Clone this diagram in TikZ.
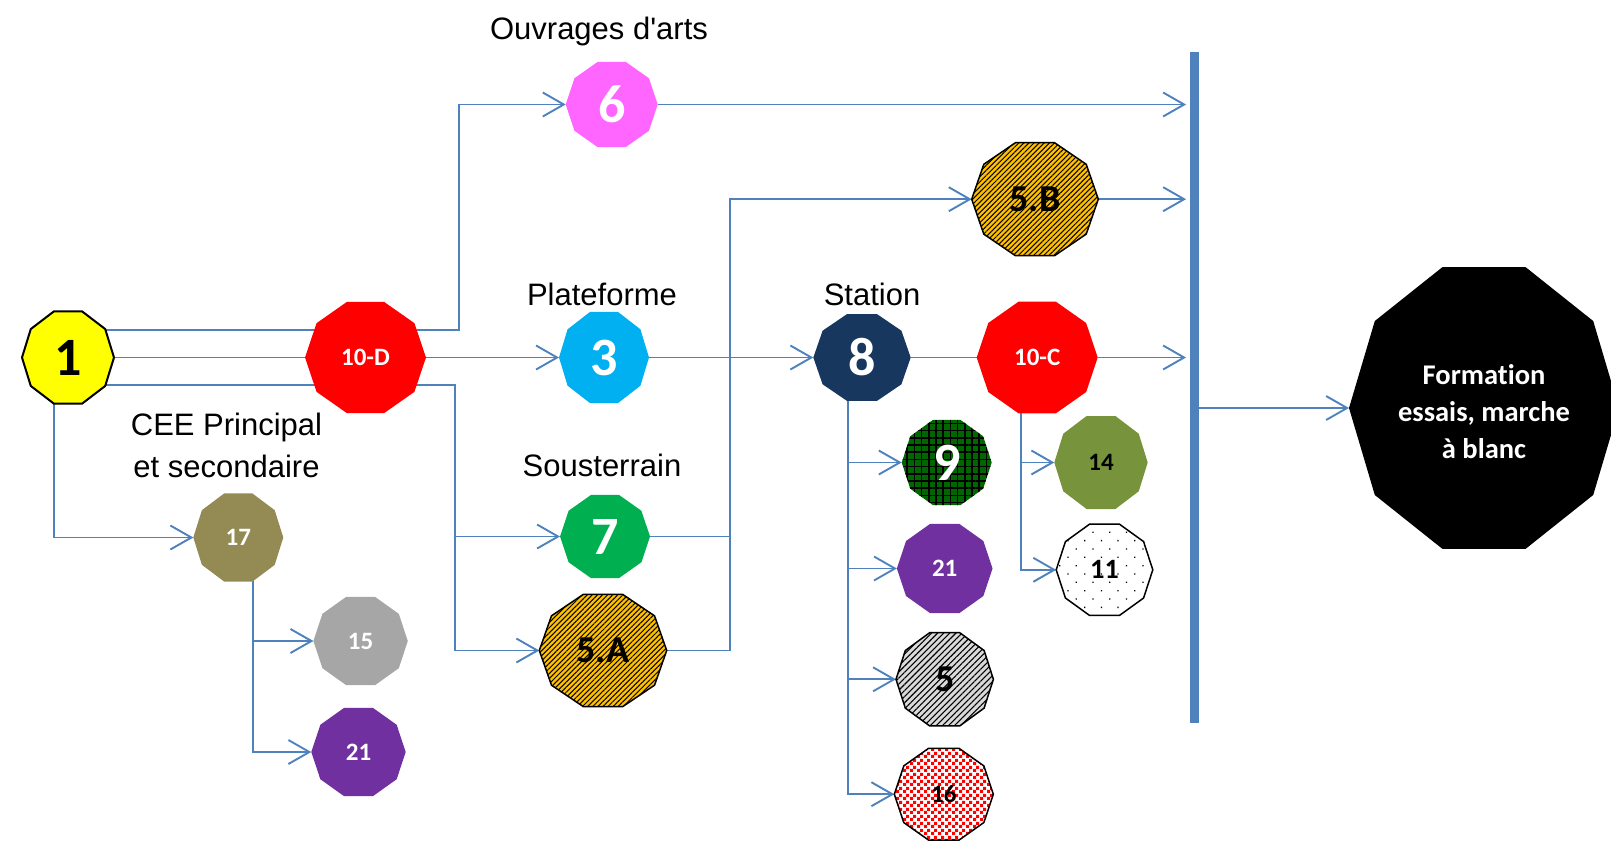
\documentclass[tikz,border=0pt]{standalone}
\usepackage{fontspec}
\usetikzlibrary{arrows.meta,patterns,patterns.meta}
\newfontfamily\lab{Liberation Sans}[Ligatures=TeXOff]
\newfontfamily\carl{Carlito}[Ligatures=CommonOff]
\definecolor{lineblue}{HTML}{4F81BD}
\definecolor{yel}{HTML}{FFFF00}
\definecolor{rd}{HTML}{FF0000}
\definecolor{pink}{HTML}{FF66FF}
\definecolor{cyanb}{HTML}{00B0F0}
\definecolor{grn}{HTML}{00B050}
\definecolor{navy}{HTML}{17375E}
\definecolor{gold}{HTML}{FFC000}
\definecolor{dkgreen}{HTML}{006600}
\definecolor{purp}{HTML}{7030A0}
\definecolor{ltgray}{HTML}{D9D9D9}
\definecolor{olive}{HTML}{77933C}
\definecolor{khaki}{HTML}{948A54}
\definecolor{midgray}{HTML}{A6A6A6}
\pgfdeclarelayer{bg}
\pgfsetlayers{bg,main}
\pgfdeclarepatternformonly{mycheck}{\pgfqpoint{0pt}{0pt}}{\pgfqpoint{7pt}{7pt}}{\pgfqpoint{7pt}{7pt}}{%
  \pgfpathrectangle{\pgfqpoint{0pt}{0pt}}{\pgfqpoint{3.5pt}{3.5pt}}%
  \pgfpathrectangle{\pgfqpoint{3.5pt}{3.5pt}}{\pgfqpoint{3.5pt}{3.5pt}}%
  \pgfusepath{fill}}
% #1 name, #2 x, #3 y, #4 rx, #5 ry, #6 shape style, #7 node style, #8 text
\newcommand\deca[8]{%
  \path[#6] ({#2+#4},{#3}) \foreach \ang in {36,72,...,324}{ -- ({#2+#4*cos(\ang)},{#3+#5*sin(\ang)}) } -- cycle;
  \node[hold, minimum width={2*#4pt}, minimum height={1.902*#5pt}, #7] (#1) at (#2,#3) {#8};
}
\tikzset{
  conn/.style={draw=lineblue, line width=1.9pt},
  arr/.style={conn, -{Straight Barb[length=21pt,width=24pt]}},
  hold/.style={rectangle, inner sep=0pt, outer sep=0pt, draw=none},
  lbl/.style={font=\lab\fontsize{31}{31}\selectfont, anchor=base, inner sep=0pt},
  big/.style={font=\carl\bfseries\fontsize{54}{54}\selectfont},
  med/.style={font=\carl\bfseries\fontsize{38}{38}\selectfont},
  sml/.style={font=\carl\bfseries\fontsize{25}{25}\selectfont},
  hatchA/.style={preaction={fill=gold}, pattern={Lines[angle=45,distance=3.6pt,line width=1pt]}, pattern color=black, draw=black, line width=1.5pt},
  hatchB/.style={preaction={fill=ltgray}, pattern={Lines[angle=45,distance=4.3pt,line width=1.1pt]}, pattern color=black, draw=black, line width=1.5pt},
  gridp/.style={preaction={fill=dkgreen}, pattern={Hatch[distance=7.2pt,line width=1.6pt]}, pattern color=black},
  checkp/.style={preaction={fill=white}, pattern=mycheck, pattern color=red, draw=black, line width=1.5pt},
  dotsp/.style={preaction={fill=white}, pattern={Dots[angle=45,distance=11.8pt,radius=0.9pt]}, pattern color=black, draw=black, line width=1.5pt},
}
\begin{document}
\begin{tikzpicture}[x=1pt,y=-1pt]
\useasboundingbox (0,0) rectangle (1611,841);
\clip (0,0) rectangle (1611,841);
% labels
\node[lbl] (tOuv) at (599,39.3) {Ouvrages d'arts};
\node[lbl] (tPlat) at (602,305) {Plateforme};
\node[lbl] (tSta) at (872,305) {Station};
\node[lbl] (tSous) at (602,476.7) {Sousterrain};
\node[lbl] (tCEE1) at (226.5,435.7) {CEE Principal};
\node[lbl] (tCEE2) at (226.5,477.3) {et secondaire};
% nodes
\deca{n1}{68}{357.5}{46}{48.4}{fill=yel, draw=black, line width=2pt}{big, text=black}{1}
\deca{n10d}{365.5}{357.5}{60.5}{58.4}{fill=rd}{sml, text=white}{10-D}
\deca{n6}{611.7}{104.5}{46}{44.7}{fill=pink}{big, text=white}{6}
\deca{n3}{604}{357.5}{45}{48}{fill=cyanb}{big, text=white}{3}
\deca{n7}{605}{536.5}{45}{43.8}{fill=grn}{big, text=white}{7}
\deca{n5a}{603}{650.5}{63.7}{59}{hatchA}{med, text=black}{5.A}
\deca{n5b}{1035}{199.2}{63.3}{59.4}{hatchA}{med, text=black}{5.B}
\deca{n8}{862}{357.5}{48.7}{45.6}{fill=navy}{big, text=white}{8}
\deca{n10c}{1037.2}{357.5}{60.5}{58.7}{fill=rd}{sml, text=white}{10-C}
\deca{n9}{946.7}{462.5}{45}{44.7}{gridp}{big, text=white}{9}
\deca{n21b}{944.7}{568.5}{47.8}{46.8}{fill=purp}{sml, text=white}{21}
\deca{n5}{944.7}{679.3}{48.7}{49}{hatchB}{med, text=black}{5}
\deca{n16}{943.8}{794.2}{49.5}{48.2}{checkp}{sml, text=black}{16}
\deca{n14}{1101}{462.5}{46.7}{48.9}{fill=olive}{sml, text=black}{14}
\deca{n11}{1104.5}{569.8}{48.3}{48}{dotsp}{sml, font=\carl\bfseries\fontsize{28}{28}\selectfont, text=black}{11}
\deca{n17}{238.3}{537.5}{45}{46.5}{fill=khaki}{sml, text=white}{17}
\deca{n15}{360.6}{641}{47.2}{46.3}{fill=midgray}{sml, text=white}{15}
\deca{n21a}{358.5}{752}{47.2}{46.3}{fill=purp}{sml, text=white}{21}
\deca{nform}{1484}{408}{135}{148}{fill=black}{}{}
\node[font=\carl\bfseries\fontsize{28.5}{37}\selectfont, text=white, align=center, inner sep=0pt] (tform) at (1484,412) {Formation\\essais, marche\\à blanc};
\node[hold, fill=lineblue, minimum width=8.7pt, minimum height=671pt] (bar) at (1194.4,387.8) {};
% connectors
\begin{pgfonlayer}{bg}
\draw[arr] (n1.center |- 0,330) -| (459.3,0 |- n6.west) -- (n6.west);
\draw[conn] (n1.east) -- (n10d.west);
\draw[arr] (n10d.east) -- (n3.west);
\draw[arr] (n1.center |- 0,385) -| (455,0 |- n7.west) -- (n7.west);
\draw[arr] (n1.center |- 0,385) -| (455,0 |- n5a.west) -- (n5a.west);
\draw[arr] (n1.center -| 54.3,0) |- (n17.west);
\draw[arr] (n17.center -| 253.3,0) |- (n15.west);
\draw[arr] (n17.center -| 253.3,0) |- (n21a.west);
\draw[arr] (n3.east) -- (n8.west);
\draw[conn] (n7.east) -| (730,0 |- n3.east);
\draw[arr] (n5a.east) -| (730,0 |- n5b.west) -- (n5b.west);
\draw[conn] (n8.east) -- (n10c.west);
\draw[arr] (n8.center -| 848.3,0) |- (n9.west);
\draw[arr] (n8.center -| 848.3,0) |- (n21b.west);
\draw[arr] (n8.center -| 848.3,0) |- (n5.west);
\draw[arr] (n8.center -| 848.3,0) |- (n16.west);
\draw[arr] (n10c.center -| 1021,0) |- (n14.west);
\draw[arr] (n10c.center -| 1021,0) |- (n11.west);
\draw[arr, shorten >=4pt] (n6.east) -- (bar.west |- n6.east);
\draw[arr, shorten >=4pt] (n5b.east) -- (bar.west |- n5b.east);
\draw[arr, shorten >=4pt] (n10c.east) -- (bar.west |- n10c.east);
\draw[arr] (bar.east |- nform.west) -- (nform.west);
\end{pgfonlayer}
\end{tikzpicture}
\end{document}
